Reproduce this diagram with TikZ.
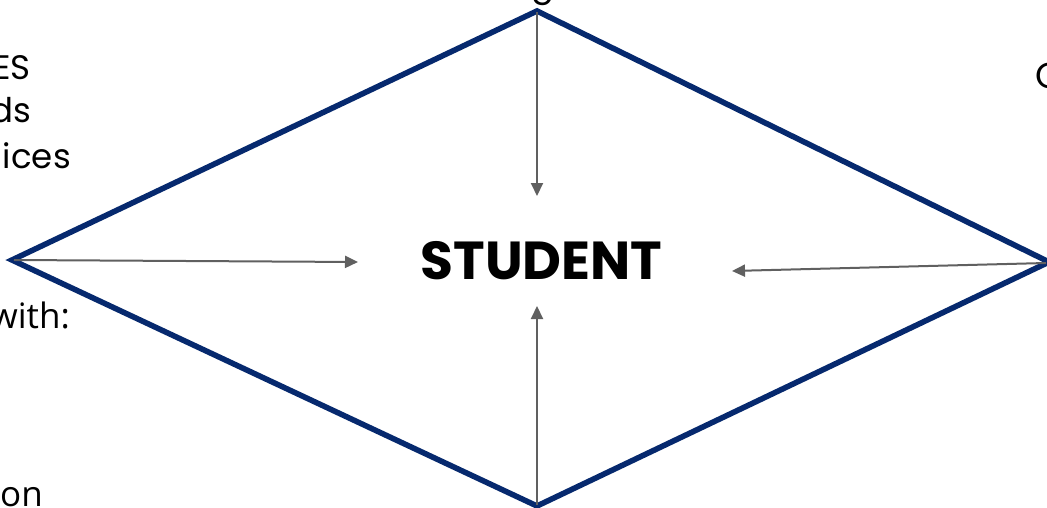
\documentclass[tikz,border=0pt]{standalone}
\usepackage{fontspec}
\setmainfont{Poppins}
\newfontfamily\opensans{Open Sans}
\usetikzlibrary{arrows.meta}
\definecolor{navy}{HTML}{06296E}
\definecolor{arrowgray}{HTML}{606060}
\tikzset{
  diamondline/.style={draw=navy, line width=5.6pt, line join=miter},
  flow/.style={draw=arrowgray, line width=2pt, -{Triangle[length=13pt,width=12pt]}},
  lefttext/.style={anchor=base east, inner sep=0pt, font=\fontsize{34}{40}\selectfont},
  sidetext/.style={anchor=base east, inner sep=0pt, font=\opensans\fontsize{35}{40}\selectfont},
}
\begin{document}
\begin{tikzpicture}[x=1pt,y=-1pt]
\useasboundingbox (0,0) rectangle (1047,508);
\clip (0,0) rectangle (1047,508);
\fill[white] (0,0) rectangle (1047,508);
% diamond vertices
\coordinate (top) at (537,11);
\coordinate (left) at (12,260);
\coordinate (right) at (1049,262);
\coordinate (bottom) at (537,506);
\draw[diamondline] (top) -- (right) -- (bottom) -- (left) -- cycle;
% centre label
\node[inner sep=0pt, font=\bfseries\fontsize{53.5}{60}\selectfont] (student) at (541.5,261) {STUDENT};
% arrow ends
\coordinate (topend) at (537,196);
\coordinate (leftend) at (358,262);
\coordinate (rightend) at (732,271);
\coordinate (bottomend) at (537,306);
\coordinate (topstart) at (537,12);
\coordinate (leftstart) at (14,260);
\coordinate (rightstart) at (1046,263);
\coordinate (bottomstart) at (537,505);
\draw[flow] (topstart) -- (topend);
\draw[flow] (leftstart) -- (leftend);
\draw[flow] (rightstart) -- (rightend);
\draw[flow] (bottomstart) -- (bottomend);
% clipped texts at the borders
\node[lefttext] (t1) at (31,80) {ES};
\node[lefttext] (t2) at (31,123) {ds};
\node[lefttext] (t3) at (71,168) {ices};
\node[sidetext] (t4) at (70,328) {with:};
\node[sidetext] (t5) at (43,506) {on};
\node[anchor=base, inner sep=0pt, font=\fontsize{34}{40}\selectfont] (t6) at (543,-3) {g};
\node[anchor=base west, inner sep=0pt, font=\fontsize{36}{40}\selectfont] (t7) at (1035,89) {C};
\end{tikzpicture}
\end{document}
